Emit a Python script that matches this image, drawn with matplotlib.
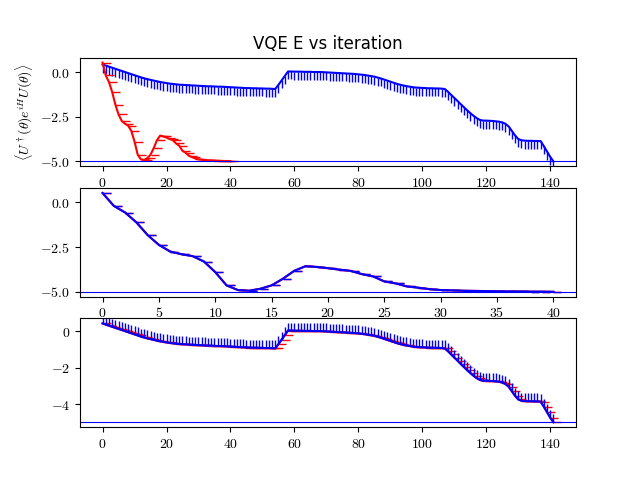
import numpy as np
import matplotlib
matplotlib.use('Agg')
import matplotlib.pyplot as plt
import matplotlib.ticker as ticker

plt.rcParams['mathtext.fontset'] = 'cm'

# energy per iteration, long run (blue)
e_long = [0.42, 0.36, 0.30, 0.24, 0.18, 0.12, 0.06, 0.00, -0.06, -0.12,
          -0.18, -0.24, -0.30, -0.35, -0.40, -0.44, -0.48, -0.52, -0.56, -0.59,
          -0.62, -0.65, -0.67, -0.69, -0.71, -0.72, -0.73, -0.74, -0.75, -0.76,
          -0.77, -0.78, -0.79, -0.80, -0.80, -0.81, -0.82, -0.82, -0.83, -0.84,
          -0.85, -0.86, -0.87, -0.88, -0.89, -0.90, -0.90, -0.91, -0.91, -0.92,
          -0.92, -0.93, -0.93, -0.94, -0.95, -0.72, -0.47, -0.22, 0.03, 0.03,
          0.02, 0.02, 0.02, 0.01, 0.01, 0.01, 0.00, 0.00, 0.00, -0.01,
          -0.02, -0.03, -0.04, -0.05, -0.06, -0.07, -0.08, -0.09, -0.10, -0.11,
          -0.13, -0.15, -0.17, -0.20, -0.23, -0.26, -0.31, -0.36, -0.42, -0.48,
          -0.54, -0.60, -0.66, -0.71, -0.75, -0.79, -0.82, -0.85, -0.87, -0.88,
          -0.89, -0.90, -0.91, -0.91, -0.92, -0.92, -0.93, -0.95, -1.10, -1.28,
          -1.45, -1.62, -1.80, -1.97, -2.14, -2.30, -2.45, -2.58, -2.68, -2.72,
          -2.72, -2.73, -2.74, -2.76, -2.78, -2.82, -2.90, -3.05, -3.30, -3.55,
          -3.75, -3.82, -3.84, -3.85, -3.85, -3.86, -3.86, -3.87, -4.15, -4.45,
          -4.75, -5.00]

# energy per iteration, short run (red)
e_short = [0.53, -0.19, -0.56, -1.11, -1.82, -2.37, -2.74, -2.89, -3.00, -3.30,
           -3.89, -4.63, -4.89, -4.93, -4.82, -4.63, -4.26, -3.82, -3.56, -3.60,
           -3.67, -3.75, -3.82, -4.00, -4.13, -4.41, -4.52, -4.69, -4.76, -4.84,
           -4.89, -4.91, -4.93, -4.94, -4.95, -4.96, -4.97, -4.97, -4.98, -4.98,
           -4.99]

e_exact = -5.0

it_long = np.arange(len(e_long))
it_short = np.arange(len(e_short))


# tick labels in computer modern, like usetex output
class CMFormatter(ticker.ScalarFormatter):
    def __call__(self, x, pos=None):
        s = super().__call__(x, pos).replace('\u2212', '-')
        if s == '':
            return s
        return r'$\mathrm{%s}$' % s


fig, axs = plt.subplots(3, 1, figsize=(6.4, 4.8))

# top: both runs
axs[0].plot(it_long, e_long, 'b', marker=3)
axs[0].plot(it_short, e_short, 'r', marker=1)
axs[0].axhline(e_exact, color='b', lw=0.8)
axs[0].set_title("VQE E vs iteration")
axs[0].set_ylabel(r'$\langle U^\dagger(\theta) e^{iH} U(\theta)\rangle$')

# middle: short run
axs[1].plot(it_short, e_short, 'r', marker=1)
axs[1].plot(it_short, e_short, 'b', marker=1)
axs[1].axhline(e_exact, color='b', lw=0.8)

# bottom: long run
axs[2].plot(it_long, e_long, 'r', marker=1)
axs[2].plot(it_long, e_long, 'b', marker=2)
axs[2].axhline(e_exact, color='b', lw=0.8)

for ax in axs:
    ax.xaxis.set_major_formatter(CMFormatter())
    ax.yaxis.set_major_formatter(CMFormatter())

plt.savefig('out.png')
